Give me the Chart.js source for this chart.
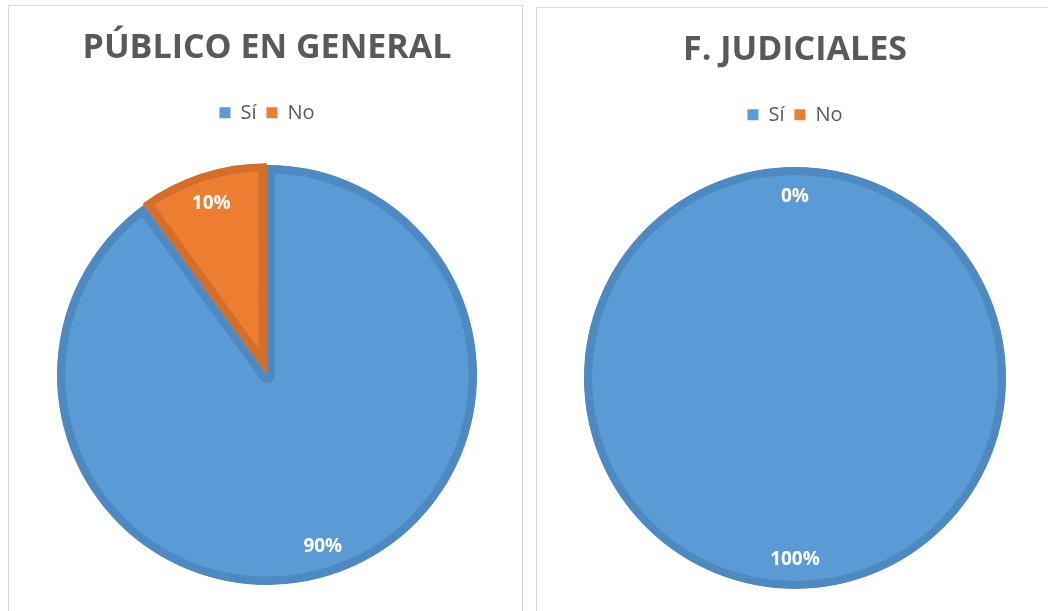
<!DOCTYPE html>
<html>
<head>
<meta charset="utf-8">
<script src="https://cdn.jsdelivr.net/npm/chart.js@4/dist/chart.umd.min.js"></script>
<style>
    html, body { margin: 0; padding: 0; background: #fff; overflow: hidden; width: 1048px; height: 611px; }
    .panel { position: absolute; border: 1px solid #d9d9d9; background: #fff; }
    #panel-left { left: 8px; top: 5px; width: 513px; height: 640px; }
    #panel-right { left: 536px; top: 7px; width: 530px; height: 640px; }
    canvas { display: block; }
</style>
</head>
<body>
<div class="panel" id="panel-left"><canvas id="publicoChart" width="513" height="620"></canvas></div>
<div class="panel" id="panel-right"><canvas id="judicialesChart" width="513" height="620"></canvas></div>
<script>
const categories = ['Sí', 'No'];
const publicoValues = [90, 10];
const judicialesValues = [100, 0];
const titles = ['PÚBLICO EN GENERAL', 'F. JUDICIALES'];

const fillColors = ['#5b9bd5', '#ed7d31'];
const edgeColors = ['#4f89c1', '#d16f2b'];

// percentage labels inside each slice, near the rim
const pctLabels = {
    id: 'pctLabels',
    afterDatasetsDraw(chart) {
        const ctx = chart.ctx;
        const values = chart.data.datasets[0].data;
        const total = values.reduce((a, b) => a + b, 0);
        chart.getDatasetMeta(0).data.forEach((arc, i) => {
            const p = arc.getProps(['x', 'y', 'startAngle', 'endAngle', 'outerRadius'], true);
            const mid = (p.startAngle + p.endAngle) / 2;
            const r = p.outerRadius * 0.86;
            ctx.save();
            ctx.fillStyle = '#ffffff';
            ctx.font = 'bold 19px "Open Sans"';
            ctx.textAlign = 'center';
            ctx.textBaseline = 'middle';
            ctx.fillText(Math.round(values[i] / total * 100) + '%', p.x + Math.cos(mid) * r, p.y + Math.sin(mid) * r);
            ctx.restore();
        });
    }
};

// rim only (no radial edge) for a pie that is one full slice
const rimOnly = {
    id: 'rimOnly',
    afterDatasetsDraw(chart, args, opts) {
        if (!opts.width) return;
        const ctx = chart.ctx;
        chart.getDatasetMeta(0).data.forEach((arc, i) => {
            const p = arc.getProps(['x', 'y', 'startAngle', 'endAngle', 'outerRadius'], true);
            if (p.endAngle - p.startAngle <= 0) return;
            ctx.save();
            ctx.strokeStyle = edgeColors[i];
            ctx.lineWidth = opts.width;
            ctx.beginPath();
            ctx.arc(p.x, p.y, p.outerRadius - opts.width / 2, p.startAngle, p.endAngle);
            ctx.stroke();
            ctx.restore();
        });
    }
};

function makePie(id, title, values, offsets, padding, edgeWidth, rim) {
    return new Chart(document.getElementById(id), {
        type: 'pie',
        data: {
            labels: categories,
            datasets: [{
                data: values,
                backgroundColor: fillColors,
                borderColor: edgeColors,
                borderWidth: edgeWidth,
                borderAlign: 'inner',
                offset: offsets,
                hoverOffset: 0,
                hoverBorderWidth: edgeWidth
            }]
        },
        options: {
            responsive: false,
            animation: false,
            layout: { padding: padding },
            plugins: {
                title: {
                    display: true,
                    text: title,
                    color: '#595959',
                    font: { family: 'Open Sans', size: 34, weight: 'bold' },
                    padding: { top: 22, bottom: 24 }
                },
                legend: {
                    position: 'top',
                    labels: {
                        color: '#595959',
                        font: { family: 'Open Sans', size: 20 },
                        boxWidth: 11,
                        boxHeight: 11,
                        padding: 10,
                        generateLabels: chart => Chart.overrides.pie.plugins.legend.labels.generateLabels(chart)
                            .map(l => Object.assign(l, { lineWidth: 0 }))
                    }
                },
                rimOnly: { width: rim },
                tooltip: { enabled: false }
            }
        },
        plugins: [rimOnly, pctLabels]
    });
}

makePie('publicoChart', titles[0], publicoValues, [0, 6], { left: 45, right: 42, top: 0, bottom: 9 }, 8, 0);
makePie('judicialesChart', titles[1], judicialesValues, [0, 0], { left: 47, right: 44, top: 0, bottom: 7 }, 0, 8);
</script>
</body>
</html>
